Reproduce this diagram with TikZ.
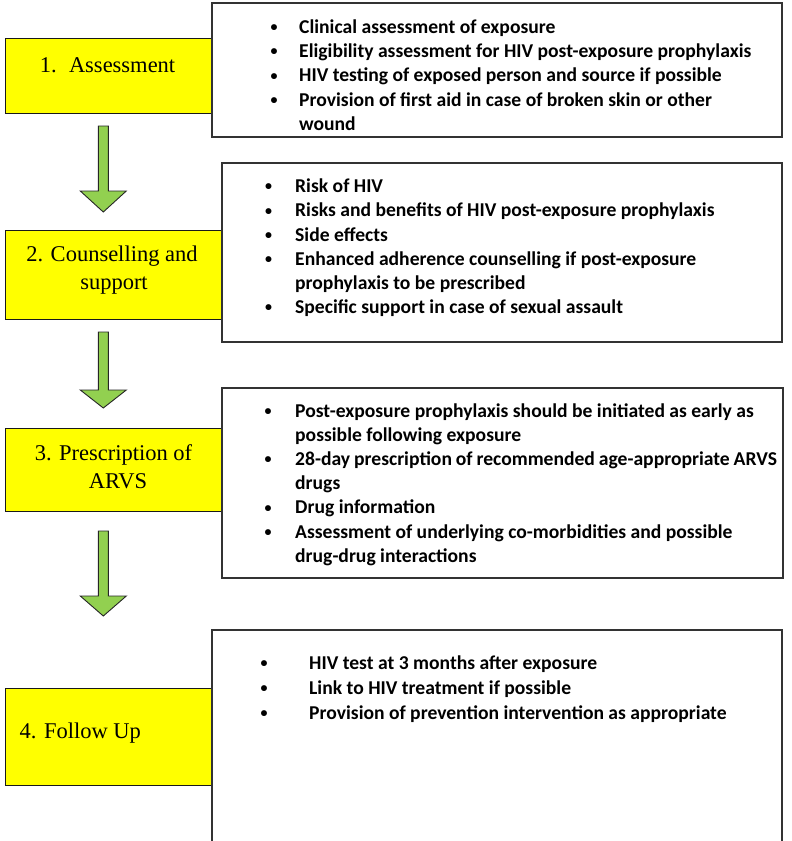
\documentclass[tikz,border=0pt]{standalone}
\usepackage{fontspec}
\setmainfont{Liberation Serif}
\newfontfamily\listfont{Carlito}
\usetikzlibrary{calc}

\definecolor{stageyellow}{HTML}{FFFF00}
\definecolor{arrowgreen}{HTML}{92D050}

\tikzset{
  stage/.style={draw=black!90, line width=0.9pt, fill=stageyellow, anchor=north west,
                inner sep=0, outer sep=0},
  panel/.style={draw=black!80, line width=1.2pt, fill=white, anchor=north west,
                inner sep=0, outer sep=0},
  stagetext/.style={font=\fontsize{22.5}{28}\selectfont, inner sep=0, anchor=base},
  itemtext/.style={font=\listfont\bfseries\fontsize{19.6}{24}\selectfont, inner sep=0},
  itembullet/.style={font=\listfont\bfseries\fontsize{14}{14}\selectfont, inner sep=0},
  garrow/.style={draw=black!85, line width=0.9pt, fill=arrowgreen, line join=miter},
}

% block arrow from #1 (top of shaft) to #2 (tip), head length #3
\newcommand\flowarrow[3]{%
  \draw[garrow] ($(#1)+(-5,0)$) -- ($(#2)+(-5,-#3)$) -- ($(#2)+(-23,-#3)$) -- (#2)
    -- ($(#2)+(23,-#3)$) -- ($(#2)+(5,-#3)$) -- ($(#1)+(5,0)$) -- cycle;}

% bulleted lines: prefix, bullet x, text x, first baseline, line step, list of flag/text
\newcommand\itemlist[6]{%
  \foreach [count=\i] \b/\t in {#6} {
    \node[itemtext, anchor=base west] (#1-\i) at (#3, {#4+#5*(\i-1)}) {\t};
    \ifnum\b=1
      \node[itembullet, anchor=base] (#1-b\i) at (#2, {#4+#5*(\i-1)-1.8}) {\textbullet};
    \fi
  }}

\begin{document}
\begin{tikzpicture}[x=1pt, y=-1pt]
\useasboundingbox (0,0) rectangle (792,841);
\clip (0,0) rectangle (792,841);

% stage boxes (right edges tucked under the panels)
\node[stage, minimum width=240, minimum height=74.5] (s1) at (5.5,38.5) {};
\node[stage, minimum width=240, minimum height=89]   (s2) at (5.5,230) {};
\node[stage, minimum width=240, minimum height=83]   (s3) at (5.5,428) {};
\node[stage, minimum width=240, minimum height=97]   (s4) at (5.5,688) {};

% detail panels
\node[panel, minimum width=570, minimum height=134] (p1) at (212,3) {};
\node[panel, minimum width=560, minimum height=179] (p2) at (222,163) {};
\node[panel, minimum width=561, minimum height=190] (p3) at (222,388) {};
\node[panel, minimum width=570, minimum height=240] (p4) at (212,630) {};

% stage titles
\node[stagetext] (t1) at (107.5,72) {1.\hspace{0.55em}Assessment};
\node[stagetext] (t2a) at (112,261) {2. Counselling and};
\node[stagetext] (t2b) at (114,289) {support};
\node[stagetext] (t3a) at (113.5,460) {3. Prescription of};
\node[stagetext] (t3b) at (118,488) {ARVS};
\node[stagetext, anchor=base west] (t4) at (19.5,738) {4. Follow Up};

% arrows between stages
\coordinate (a1s) at (103.3,126);
\coordinate (a1e) at (103.3,212);
\coordinate (a2s) at (103.3,332);
\coordinate (a2e) at (103.3,408);
\coordinate (a3s) at (103.3,531);
\coordinate (a3e) at (103.3,616);
\flowarrow{a1s}{a1e}{21}
\flowarrow{a2s}{a2e}{18}
\flowarrow{a3s}{a3e}{20}

% panel contents
\itemlist{l1}{274}{299}{33.3}{24.3}{%
  1/Clinical assessment of exposure,
  1/Eligibility assessment for HIV post-exposure prophylaxis,
  1/HIV testing of exposed person and source if possible,
  1/Provision of first aid in case of broken skin or other,
  0/wound}
\itemlist{l2}{268.7}{295}{192.7}{24.2}{%
  1/Risk of HIV,
  1/Risks and benefits of HIV post-exposure prophylaxis,
  1/Side effects,
  1/Enhanced adherence counselling if post-exposure,
  0/prophylaxis to be prescribed,
  1/Specific support in case of sexual assault}
\itemlist{l3}{268}{295}{417.5}{24.1}{%
  1/Post-exposure prophylaxis should be initiated as early as,
  0/possible following exposure,
  1/{\spaceskip=0.2em 28-day prescription of recommended age-appropriate ARVS},
  0/drugs,
  1/Drug information,
  1/Assessment of underlying co-morbidities and possible,
  0/drug-drug interactions}
\itemlist{l4}{264}{309}{669.5}{25}{%
  1/HIV test at 3 months after exposure,
  1/Link to HIV treatment if possible,
  1/Provision of prevention intervention as appropriate}
\end{tikzpicture}
\end{document}
